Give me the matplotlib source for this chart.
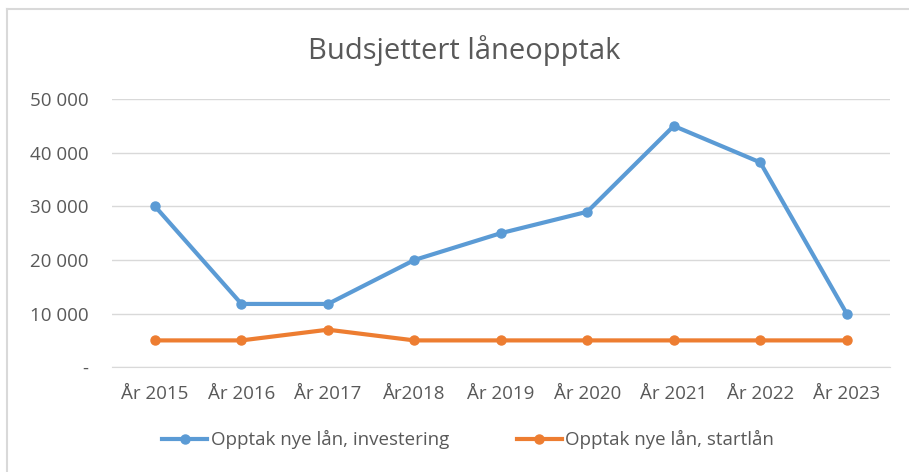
import matplotlib.pyplot as plt
from matplotlib.lines import Line2D
from matplotlib.ticker import FuncFormatter

years = ["År 2015", "År 2016", "År 2017", "År2018", "År 2019", "År 2020", "År 2021", "År 2022", "År 2023"]
investering = [30000, 11800, 11800, 20000, 25000, 29000, 45000, 38200, 10000]
startlan = [5000, 5000, 7000, 5000, 5000, 5000, 5000, 5000, 5000]
label_inv = "Opptak nye lån, investering"
label_start = "Opptak nye lån, startlån"

plt.rcParams["font.family"] = ["Open Sans", "DejaVu Sans"]
text_color = "#595959"


def fmt_thousands(v, _pos):
    if v == 0:
        return "-"
    return f"{int(v):,}".replace(",", " ")


fig = plt.figure(figsize=(9.09, 4.72), dpi=100)
ax = fig.add_axes([0.123, 0.222, 0.856, 0.568])

x = list(range(len(years)))
ax.plot(x, investering, color="#5B9BD5", lw=3, marker="o", ms=6.5, label=label_inv,
        solid_joinstyle="round")
ax.plot(x, startlan, color="#ED7D31", lw=3, marker="o", ms=6.5, label=label_start,
        solid_joinstyle="round")

ax.set_xlim(-0.5, len(years) - 0.5)
ax.set_ylim(0, 50000)
ax.set_yticks(range(0, 50001, 10000))
ax.yaxis.set_major_formatter(FuncFormatter(fmt_thousands))
ax.set_xticks(x)
ax.set_xticklabels(years)
ax.grid(axis="y", color="#D9D9D9", lw=1)
ax.set_axisbelow(True)
for side in ["top", "right", "left"]:
    ax.spines[side].set_visible(False)
ax.spines["bottom"].set_color("#D9D9D9")
ax.tick_params(length=0, colors=text_color, labelsize=13.5)
ax.tick_params(axis="x", pad=13)
ax.tick_params(axis="y", pad=17)

fig.suptitle("Budsjettert låneopptak", x=0.511, y=0.925, fontsize=21, color=text_color)
fig.legend(loc="center", bbox_to_anchor=(0.515, 0.068), ncol=2, frameon=False,
           fontsize=13.5, labelcolor=text_color, handlelength=2.4, columnspacing=3.6,
           handletextpad=0.2)

# chart frame (only top and left visible in crop)
fig.add_artist(Line2D([0.008, 1.0], [0.980, 0.980], transform=fig.transFigure, color="#D9D9D9", lw=1.5))
fig.add_artist(Line2D([0.008, 0.008], [0.0, 0.980], transform=fig.transFigure, color="#D9D9D9", lw=1.5))

fig.savefig("out.png", dpi=100)
